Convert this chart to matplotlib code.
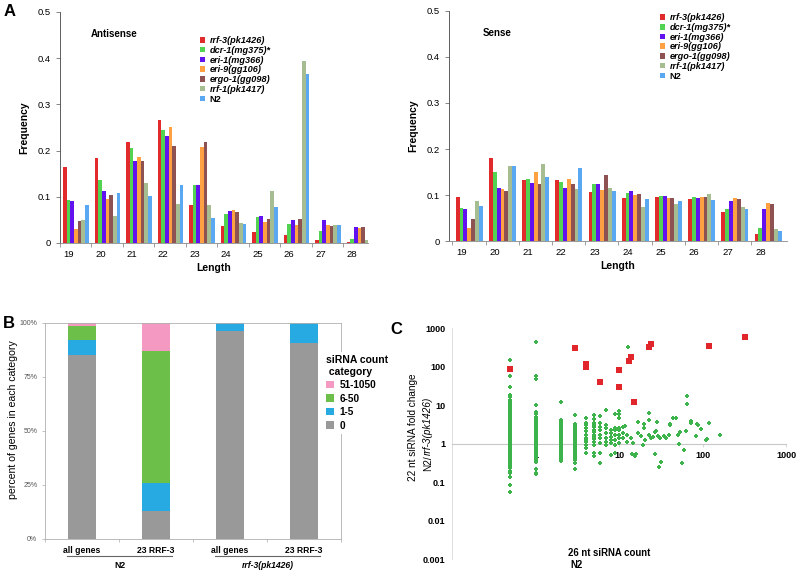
import matplotlib
matplotlib.use('Agg')
import matplotlib.pyplot as plt
import matplotlib.transforms as mtransforms
import numpy as np

plt.rcParams['font.family'] = ['Liberation Sans', 'DejaVu Sans']
plt.rcParams['font.size'] = 6

# ---------------- data: panel A ----------------
lengths = [19, 20, 21, 22, 23, 24, 25, 26, 27, 28]
strains = ['rrf-3(pk1426)', 'dcr-1(mg375)*', 'eri-1(mg366)', 'eri-9(gg106)',
           'ergo-1(gg098)', 'rrf-1(pk1417)', 'N2']
strain_colors = ['#e02a2c', '#52d452', '#6212ee', '#ffa043', '#8e5252', '#a6bd92', '#5aa8f2']

as_rrf3 = [0.165, 0.183, 0.219, 0.266, 0.083, 0.037, 0.023, 0.017, 0.007, 0.002]
as_dcr1 = [0.092, 0.137, 0.205, 0.244, 0.125, 0.062, 0.056, 0.041, 0.026, 0.009]
as_eri1 = [0.090, 0.112, 0.178, 0.232, 0.125, 0.069, 0.059, 0.050, 0.049, 0.034]
as_eri9 = [0.031, 0.095, 0.187, 0.250, 0.208, 0.071, 0.045, 0.038, 0.039, 0.033]
as_ergo1 = [0.047, 0.104, 0.177, 0.210, 0.219, 0.066, 0.051, 0.053, 0.036, 0.035]
as_rrf1 = [0.049, 0.059, 0.130, 0.084, 0.083, 0.044, 0.112, 0.393, 0.040, 0.006]
as_n2 = [0.082, 0.108, 0.102, 0.125, 0.054, 0.042, 0.078, 0.366, 0.039, 0.006]

s_rrf3 = [0.096, 0.181, 0.133, 0.132, 0.106, 0.094, 0.095, 0.091, 0.063, 0.016]
s_dcr1 = [0.071, 0.150, 0.135, 0.128, 0.124, 0.104, 0.097, 0.095, 0.070, 0.029]
s_eri1 = [0.070, 0.116, 0.127, 0.115, 0.124, 0.108, 0.097, 0.093, 0.088, 0.070]
s_eri9 = [0.029, 0.113, 0.150, 0.135, 0.111, 0.101, 0.093, 0.095, 0.093, 0.083]
s_ergo1 = [0.047, 0.109, 0.124, 0.124, 0.143, 0.102, 0.093, 0.096, 0.092, 0.080]
s_rrf1 = [0.086, 0.164, 0.168, 0.113, 0.115, 0.073, 0.081, 0.102, 0.075, 0.027]
s_n2 = [0.077, 0.162, 0.140, 0.159, 0.109, 0.092, 0.087, 0.090, 0.069, 0.022]

antisense = [as_rrf3, as_dcr1, as_eri1, as_eri9, as_ergo1, as_rrf1, as_n2]
sense = [s_rrf3, s_dcr1, s_eri1, s_eri9, s_ergo1, s_rrf1, s_n2]

# ---------------- data: panel B ----------------
b_labels = ['all genes', '23 RRF-3', 'all genes', '23 RRF-3']
b_zero = [85.0, 13.0, 96.1, 90.9]
b_1_5 = [7.2, 12.8, 3.9, 9.1]
b_6_50 = [6.4, 61.1, 0.0, 0.0]
b_51_1050 = [1.4, 13.1, 0.0, 0.0]
b_cat_names = ['0', '1-5', '6-50', '51-1050']
b_colors = ['#999999', '#27a9e1', '#6cc04a', '#f49ac2']

# ---------------- data: panel C ----------------
col_05 = [150, 59, 30, 18, 16, 14, 12.5, 11, 10, 9, 8, 7.2, 6.5, 5.8, 5.2, 4.7, 4.2, 3.8,
          3.4, 3.1, 2.8, 2.5, 2.3, 2.1, 1.9, 1.75, 1.6, 1.45, 1.3, 1.2, 1.1, 1.0, 0.92,
          0.85, 0.78, 0.72, 0.66, 0.6, 0.55, 0.5, 0.46, 0.42, 0.38, 0.35, 0.32, 0.29,
          0.26, 0.23, 0.2, 0.17, 0.135, 0.085, 0.057]
col_1 = [440, 59, 47, 10, 6.6, 6.0, 5.0, 4.5, 4.0, 3.7, 3.4, 3.1, 2.8, 2.5, 2.3, 2.1, 1.9,
         1.75, 1.6, 1.45, 1.3, 1.2, 1.1, 1.0, 0.92, 0.85, 0.78, 0.72, 0.66, 0.6, 0.55,
         0.5, 0.46, 0.42, 0.38, 0.34, 0.22, 0.17, 0.16]
col_2 = [12, 4.2, 3.8, 3.4, 3.1, 2.8, 2.5, 2.3, 2.1, 1.9, 1.75, 1.6, 1.45, 1.3, 1.2, 1.1,
         1.0, 0.92, 0.85, 0.78, 0.72, 0.66, 0.6, 0.55, 0.5, 0.46, 0.42, 0.38, 0.35]
col_3 = [5.6, 3.3, 3.0, 2.7, 2.4, 2.2, 2.0, 1.8, 1.65, 1.5, 1.35, 1.2, 1.1, 1.0, 0.9,
         0.82, 0.74, 0.67, 0.6, 0.54, 0.48, 0.43, 0.38, 0.32, 0.22]
col_4 = [4.6, 3.5, 3.1, 2.6, 2.1, 1.7, 1.4, 1.25, 1.1, 0.93, 0.76, 0.57]
col_5 = [5.6, 4.3, 3.4, 3.0, 2.7, 2.3, 2.0, 1.7, 1.5, 1.3, 1.1, 0.93, 0.57, 0.48]
col_6 = [5.3, 3.5, 2.8, 2.3, 1.7, 1.4, 1.03, 0.57, 0.31]
col_7 = [7.5, 3.1, 2.5, 1.9, 1.4, 1.1, 0.93]
col_8 = [2.3, 1.9, 1.5, 1.25, 1.03, 0.51]
col_9 = [5.8, 2.5, 2.3, 1.7, 1.25, 0.93, 0.57]
col_10 = [7.1, 5.8, 4.8, 2.5, 2.3, 1.7, 1.4, 1.03]
other_x = [11.2, 11.2, 11.2, 11.7, 12.5, 12.5, 12.8, 14, 14.4, 14.7, 15.4, 16, 16.9, 16.9,
           18.1, 19.4, 20, 20, 20.3, 22.6, 22.6, 22.9, 24.5, 25.5, 26.8, 26.8, 28, 28.7,
           29.2, 30, 30.6, 32.2, 34.2, 36.9, 39.7, 40.5, 40.5, 44.5, 48, 50.5, 52.4, 54.5,
           57, 60, 64, 65, 65, 73, 73.5, 84, 87, 88, 96.6, 109, 113, 119, 164]
other_y = [2.8, 1.9, 1.4, 2.9, 1.7, 1.1, 332, 1.4, 0.54, 1.03, 0.48, 0.54, 3.6, 1.9,
           1.6, 0.93, 3.2, 2.6, 1.25, 6.4, 4.2, 1.7, 1.4, 1.5, 2.0, 0.54, 2.1, 3.6,
           1.6, 0.25, 1.4, 0.34, 1.6, 1.4, 1.7, 3.2, 3.1, 4.6, 4.6, 1.7, 1.0, 2.0,
           0.31, 0.69, 2.15, 17, 10.6, 3.5, 3.8, 1.6, 3.2, 3.1, 2.4, 1.25, 1.3, 3.5, 1.7]
red_x = [0.5, 3, 4, 4, 6, 10, 10, 13, 14, 15, 23, 24, 120, 320]
red_y = [85, 300, 120, 100, 41, 80, 29, 140, 175, 12, 330, 400, 355, 590]

fig = plt.figure(figsize=(8, 5.78), dpi=100)

# ---------------- panel A ----------------
def freq_panel(rect, data, title, xlim, leg_anchor):
    ax = fig.add_axes(rect)
    x = np.array(lengths, dtype=float)
    w = 0.116
    handles = []
    for k, vals in enumerate(data):
        b = ax.bar(x - 0.18 + w / 2 + k * w, vals, w, color=strain_colors[k],
                   label=strains[k], linewidth=0)
        handles.append(b)
    ax.set_xlim(*xlim)
    ax.set_ylim(0, 0.5)
    ax.set_yticks([0, 0.1, 0.2, 0.3, 0.4, 0.5])
    ax.set_yticklabels(['0', '0.1', '0.2', '0.3', '0.4', '0.5'])
    ax.set_xticks(lengths)
    ax.set_xticks(x - 0.28, minor=True)
    ax.tick_params(axis='x', which='major', length=0, pad=5, labelsize=6.8)
    ax.tick_params(axis='x', which='minor', length=3, width=0.5, color='#777777')
    ax.tick_params(axis='y', length=3, width=0.5, labelsize=6.8, color='#555555')
    for s in ['top', 'right']:
        ax.spines[s].set_visible(False)
    ax.spines['left'].set_color('#444444')
    ax.spines['left'].set_linewidth(0.6)
    ax.spines['bottom'].set_color('#888888')
    ax.spines['bottom'].set_linewidth(0.6)
    ax.set_ylabel('Frequency', fontsize=7.5, fontweight='bold', labelpad=6)
    ax.set_xlabel('Length', fontsize=7.5, fontweight='bold', labelpad=3)
    ax.text(0.1, 0.89, title, transform=ax.transAxes, fontsize=7, fontweight='bold')
    leg = ax.legend(handles=handles, loc='upper left', bbox_to_anchor=leg_anchor,
                    frameon=False, prop={'size': 6.6, 'weight': 'bold', 'style': 'italic'},
                    handlelength=0.55, handleheight=0.55, handletextpad=0.5,
                    labelspacing=0.08, borderpad=0, borderaxespad=0)
    leg.get_texts()[-1].set_style('normal')
    return ax

freq_panel([0.075, 0.5796, 0.385, 0.3997], antisense, 'Antisense', (18.74, 28.5), (0.455, 0.895))
freq_panel([0.561, 0.583, 0.4225, 0.398], sense, 'Sense', (18.61, 28.79), (0.625, 0.99))

# ---------------- panel B ----------------
axb = fig.add_axes([0.05625, 0.0675, 0.37, 0.3737])
xb = np.arange(len(b_labels))
bottom = np.zeros(len(b_labels))
b_handles = []
for vals, c, name in zip([b_zero, b_1_5, b_6_50, b_51_1050], b_colors, b_cat_names):
    h = axb.bar(xb, vals, 0.39, bottom=bottom, color=c, linewidth=0, label=name)
    b_handles.append(h)
    bottom += np.array(vals)
axb.set_xlim(-0.5, 3.5)
axb.set_ylim(0, 100)
axb.set_yticks([0, 25, 50, 75, 100])
axb.set_yticklabels(['0%', '25%', '50%', '75%', '100%'])
axb.tick_params(axis='y', length=2, width=0.5, labelsize=5, labelcolor='#555555', color='#aaaaaa')
axb.set_xticks(xb)
axb.set_xticklabels(b_labels, fontweight='bold', fontsize=6.2)
axb.set_xticks(np.arange(-0.5, 4, 1), minor=True)
axb.tick_params(axis='x', which='major', length=0, pad=5)
axb.tick_params(axis='x', which='minor', length=2, width=0.5, color='#aaaaaa')
for s in axb.spines.values():
    s.set_color('#b0b0b0')
    s.set_linewidth(0.6)
fig.text(13 / 800, 1 - 420 / 578, 'percent of genes in each category', rotation=90,
         fontsize=7.6, ha='center', va='center')
trans = mtransforms.blended_transform_factory(axb.transData, axb.transAxes)
for x0, x1, lab, st in [(-0.2, 1.22, 'N2', 'normal'), (1.8, 3.22, 'rrf-3(pk1426)', 'italic')]:
    axb.plot([x0, x1], [-0.077, -0.077], transform=trans, color='#666666', lw=0.8, clip_on=False)
    axb.text((x0 + x1) / 2, -0.125, lab, transform=trans, ha='center', va='center',
             fontsize=6.2, fontweight='bold', style=st)
legb = fig.legend(handles=b_handles[::-1], labels=b_cat_names[::-1], loc='upper left',
                  bbox_to_anchor=(0.404, 1 - 352 / 578), title='siRNA count\n category',
                  alignment='left', frameon=True, facecolor='white', edgecolor='none',
                  framealpha=1, prop={'size': 7.2, 'weight': 'bold'},
                  title_fontproperties={'size': 7.5, 'weight': 'bold'},
                  handlelength=0.8, handleheight=0.8, handletextpad=0.5,
                  labelspacing=0.35, borderpad=0.3, borderaxespad=0)

# ---------------- panel C ----------------
axc = fig.add_axes([0.565, 0.0324, 0.4175, 0.3997])
cols = [(0.5, col_05), (1, col_1), (2, col_2), (3, col_3), (4, col_4), (5, col_5),
        (6, col_6), (7, col_7), (8, col_8), (9, col_9), (10, col_10)]
gx = []
gy = []
for cx, vals in cols:
    gx += [cx] * len(vals)
    gy += vals
gx += other_x
gy += other_y
axc.scatter(gx, gy, marker='P', s=7, color='#3cb44b', linewidths=0, zorder=3)
axc.scatter(red_x, red_y, marker='s', s=15, color='#e0262b', linewidths=0, zorder=4)
axc.set_xscale('log')
axc.set_yscale('log')
axc.set_xlim(0.1, 1000)
axc.set_ylim(0.001, 1000)
axc.spines['top'].set_visible(False)
axc.spines['right'].set_visible(False)
axc.spines['bottom'].set_position(('data', 1))
axc.spines['bottom'].set_color('#c8c8c8')
axc.spines['left'].set_color('#d8d8d8')
axc.spines['bottom'].set_linewidth(0.8)
axc.spines['left'].set_linewidth(0.6)
axc.set_xticks([1, 10, 100, 1000])
axc.set_xticklabels(['1', '10', '100', '1000'], fontweight='bold', fontsize=6.5)
axc.xaxis.set_minor_locator(matplotlib.ticker.NullLocator())
axc.yaxis.set_minor_locator(matplotlib.ticker.NullLocator())
axc.set_yticks([0.001, 0.01, 0.1, 1, 10, 100, 1000])
axc.set_yticklabels(['0.001', '0.01', '0.1', '1', '10', '100', '1000'], fontweight='bold', fontsize=6.5)
axc.tick_params(axis='x', length=2, width=0.5, color='#c8c8c8', pad=3)
axc.tick_params(axis='y', length=0, pad=5)
axc.text(0.347, 0.027, '26 nt siRNA count', transform=axc.transAxes, fontsize=6.9,
         fontweight='bold', va='center')
axc.text(0.355, -0.025, 'N2', transform=axc.transAxes, fontsize=6.9, fontweight='bold', va='center')
fig.text(412.7 / 800, 1 - 427 / 578, '22 nt siRNA fold change', rotation=90, fontsize=7.2,
         ha='center', va='center')
fig.text(427.7 / 800, 1 - 455 / 578, 'N2/', rotation=90, fontsize=7.2, ha='center', va='top')
fig.text(427.7 / 800, 1 - 455 / 578, 'rrf-3(pk1426)', rotation=90, fontsize=7.2,
         style='italic', ha='center', va='bottom')

# panel letters
fig.text(0.004, 1 - 12 / 578, 'A', fontsize=12, fontweight='bold', va='center')
fig.text(0.004, 1 - 323 / 578, 'B', fontsize=12, fontweight='bold', va='center')
fig.text(0.488, 1 - 329 / 578, 'C', fontsize=12, fontweight='bold', va='center')

fig.savefig('out.png', dpi=100)
